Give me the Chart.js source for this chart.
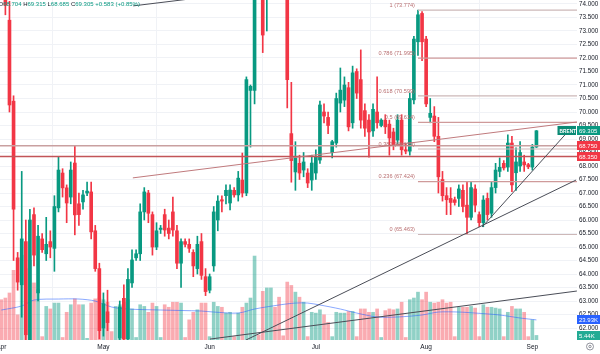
<!DOCTYPE html>
<html>
<head>
<meta charset="utf-8">
<script src="https://cdn.jsdelivr.net/npm/chart.js@4.4.1/dist/chart.umd.min.js"></script>
<style>
  body { margin: 0; background: #fff; }
  canvas { display: block; }
</style>
</head>
<body>
<canvas id="myChart" width="600" height="354"></canvas>
<script>
// daily bars, Sun-Fri (Good Friday missing)
const dates = ['Apr1','Apr2','Apr3','Apr4','Apr6','Apr7','Apr8','Apr9','Apr10','Apr11','Apr13','Apr14','Apr15','Apr16','Apr17','Apr20','Apr21','Apr22','Apr23','Apr24','Apr25','Apr27','Apr28','Apr29','Apr30',
  'May1','May2','May4','May5','May6','May7','May8','May9','May11','May12','May13','May14','May15','May16','May18','May19','May20','May21','May22','May23','May25','May26','May27','May28','May29','May30',
  'Jun1','Jun2','Jun3','Jun4','Jun5','Jun6','Jun8','Jun9','Jun10','Jun11','Jun12','Jun13','Jun15','Jun16','Jun17','Jun18','Jun19','Jun20','Jun22','Jun23','Jun24','Jun25','Jun26','Jun27','Jun29','Jun30',
  'Jul1','Jul2','Jul3','Jul4','Jul6','Jul7','Jul8','Jul9','Jul10','Jul11','Jul13','Jul14','Jul15','Jul16','Jul17','Jul18','Jul20','Jul21','Jul22','Jul23','Jul24','Jul25','Jul27','Jul28','Jul29','Jul30','Jul31',
  'Aug1','Aug3','Aug4','Aug5','Aug6','Aug7','Aug8','Aug10','Aug11','Aug12','Aug13','Aug14','Aug15','Aug17','Aug18','Aug19','Aug20','Aug21','Aug22','Aug24','Aug25','Aug26','Aug27','Aug28','Aug29','Aug31',
  'Sep1','Sep2'];

const open = [74.8,74.3,73.4,70.4,64.6,63.6,65.2,61.5,66.2,63.3,65.3,64.75,65.2,64.95,66.45,67.74,67.19,66.85,68.11,66.6,66.67,67.0,67.04,65.6,64.2,
  62.0,62.6,60.8,60.0,61.63,63.1,61.6,63.67,64.6,64.75,66.3,67.0,66.2,65.0,65.65,66.2,65.7,66.3,65.6,64.4,65.2,65.1,64.8,64.2,65.2,63.9,
  63.4,64.3,66.0,66.75,66.9,66.63,67.1,66.93,67.48,67.0,70.8,70.8,76.0,74.5,74.3,76.5,77.3,76.8,76.0,76.0,69.2,67.78,68.1,67.85,67.74,67.48,
  67.74,68.22,70.0,69.8,68.5,68.85,70.33,70.44,70.9,69.6,71.5,71.2,70.05,69.7,69.3,70.0,69.5,69.7,69.55,69.26,68.96,69.7,68.6,68.55,70.45,72.6,73.65,
  72.7,69.8,69.85,69.1,67.5,66.9,66.8,66.75,66.8,67.1,66.55,66.1,67.15,66.2,65.9,66.8,66.25,67.2,67.8,68.1,67.96,68.85,67.75,68.0,68.15,68.05,
  67.96,68.704];
const high = [75.2,74.6,74.1,70.6,64.8,67.8,66.0,66.4,66.45,65.8,65.5,66.1,65.6,66.9,68.33,67.9,67.3,68.15,68.74,67.0,67.1,67.4,67.4,65.8,64.4,
  63.3,63.4,61.0,60.9,63.0,63.6,64.2,64.9,64.9,66.6,67.2,67.1,66.3,65.9,65.8,66.4,66.0,66.85,65.8,65.3,65.3,65.3,64.9,65.4,65.5,64.2,
  64.0,66.5,66.9,66.9,67.3,67.3,67.2,67.8,68.48,71.3,71.0,77.5,76.5,75.5,77.0,77.0,79.0,78.0,77.5,81.0,71.1,68.9,68.4,68.5,67.9,68.4,
  68.6,70.4,70.3,70.0,68.95,70.7,71.63,71.3,71.1,71.7,71.6,72.3,70.3,69.9,70.3,71.3,69.75,69.9,69.7,69.4,69.9,69.9,68.8,70.7,72.8,73.774,73.72,
  72.8,70.5,70.2,69.8,67.8,67.2,67.2,66.85,67.3,67.3,67.4,67.4,67.3,66.3,66.9,67.0,67.4,68.1,68.3,68.2,69.15,69.1,68.67,68.9,68.4,68.1,
  68.8,69.315];
const low = [74.2,73.6,70.0,64.5,63.4,62.4,61.4,59.5,64.3,63.0,64.8,64.5,64.6,64.1,66.3,66.85,65.9,66.6,65.45,65.8,66.4,66.9,65.3,64.1,61.6,
  61.7,61.9,59.8,59.2,61.2,61.3,61.4,63.5,64.5,64.5,66.0,65.9,64.7,64.9,65.5,65.4,65.3,65.4,64.2,63.5,65.0,64.8,63.9,64.0,63.8,63.2,
  63.3,64.1,65.6,66.3,66.6,66.37,66.85,66.7,66.85,66.9,68.7,70.3,75.0,72.2,73.0,75.5,76.3,75.5,75.5,70.15,67.4,67.1,67.5,67.6,67.2,67.1,
  67.5,68.1,69.6,69.2,68.3,68.7,70.0,70.2,69.3,69.4,70.5,69.4,69.1,68.33,69.1,69.4,69.45,69.2,68.4,68.6,68.8,68.4,68.45,68.4,70.3,72.1,71.9,
  70.2,69.6,68.9,67.0,66.7,66.2,66.2,66.55,66.5,66.3,65.463,66.0,66.3,65.75,65.75,66.0,66.1,67.0,67.6,67.85,67.8,67.05,67.1,67.8,67.8,67.9,
  67.85,68.685];
const close = [74.4,73.95,70.26,66.4,63.7,65.3,61.75,66.0,64.7,65.4,64.9,65.1,65.0,66.5,67.85,67.19,66.63,67.85,66.19,66.2,66.93,67.07,65.56,64.2,61.9,
  62.9,62.2,60.2,60.7,62.78,61.6,63.8,64.52,64.75,66.3,67.04,66.25,65.0,65.6,65.7,65.63,65.5,65.63,64.4,65.2,65.1,64.95,64.3,65.1,63.95,63.35,
  63.9,66.3,66.7,66.7,67.1,67.11,66.93,67.55,67.0,71.2,70.95,75.0,75.5,72.85,76.5,76.8,76.8,76.0,75.8,71.2,68.2,68.3,67.74,68.15,67.37,68.11,
  68.33,70.26,69.85,69.5,68.9,70.5,70.81,71.0,69.45,71.45,70.7,69.7,69.4,69.26,70.1,69.6,69.7,69.45,69.04,68.78,69.7,68.6,68.55,70.5,72.7,73.6,72.6,
  70.3,69.95,69.1,67.6,66.9,66.75,66.65,66.65,67.15,66.5,66.1,67.2,66.55,65.9,66.74,66.2,67.2,67.85,67.95,67.93,68.85,67.3,68.15,68.5,68.04,67.97,
  68.7,69.305];
// volume in thousands
const volume = [48,50,56,83,30,101,85,95,68,60,4,40,37,44,44,3,33,42,49,42,42,2,44,49,50,
  48,45,10,40,42,45,48,37,3,42,40,33,44,40,3,42,39,45,45,44,3,24,33,36,44,44,
  4,45,40,39,32,33,4,32,39,44,50,100,6,58,62,62,39,51,5,69,65,57,51,45,4,33,
  32,36,30,21,4,33,32,32,34,34,4,37,37,33,33,37,3,35,37,36,37,45,3,48,50,57,48,
  57,45,44,45,48,44,45,4,39,39,39,40,38,4,42,39,39,38,37,4,33,40,37,37,33,4,
  24,5.44];
// volume moving average, read at a few bars
const maIdx = [0,5,8,14,19,23,27,31,39,49,52,58,62,68,72,75,78,83,87,92,97,103,107,112,116,122,127,131];
const maVol = [35.7,40.5,47.6,48.8,48.8,46.4,39.3,36.9,35.7,34.5,33.3,32.1,36.9,41.7,44,44,41.7,36.9,32.1,27.4,27.4,29.8,33.3,33.3,32.1,29.8,26.2,23.93];

const monthIdx = [0,25,51,77,104,130];
const monthLabels = ['Apr','May','Jun','Jul','Aug','Sep'];
const priceTicks = [62,62.5,63,63.5,64,64.5,65,65.5,66,66.5,67,67.5,68,68.5,69,69.5,70,70.5,71,71.5,72,72.5,73,73.5,74];

const fibRatios = ['1','0.786','0.618','0.5','0.382','0.236','0'];
const fibPrices = [73.774,71.995,70.599,69.614,68.629,67.424,65.463];
const fibStart = 102;
const hLines = [68.75, 68.35];
// drawn trend lines: [x1, price1, x2, price2]
const trendLines = [
  [32.3, 73.93, 61, 74.46],
  [59.9, 61.556, 140.7, 67.48],
  [51.1, 61.59, 140.9, 63.37],
  [117.7, 65.74, 138.2, 69.19]
];
const redLine = [32.2, 67.56, 140.9, 69.63];

const X_MIN = -0.318, X_MAX = 140.93;
const UP = '#089981', DOWN = '#f23645';

const isUp = close.map((c, i) => c >= open[i]);
const bodies = dates.map((d, i) => ({ x: i, y: [open[i], close[i]] }));
const wicks = dates.map((d, i) => ({ x: i, y: [low[i], high[i]] }));
const vols = dates.map((d, i) => ({ x: i, y: volume[i] }));
const ma = maIdx.map((v, k) => ({ x: v, y: maVol[k] }));

const lineSet = (pts, color, width, order) => ({
  type: 'line', data: pts, borderColor: color, borderWidth: width,
  pointRadius: 0, fill: false, tension: 0, yAxisID: 'y', order: order
});

const datasets = [];
trendLines.forEach(t => datasets.push(lineSet([{ x: t[0], y: t[1] }, { x: t[2], y: t[3] }], '#4a4d57', 1, 0)));
datasets.push(lineSet([{ x: redLine[0], y: redLine[1] }, { x: redLine[2], y: redLine[3] }], '#c07a7d', 1, 0));
datasets.push(lineSet([{ x: X_MIN, y: hLines[0] }, { x: X_MAX, y: hLines[0] }], '#c9a0a0', 1.6, 1));
datasets.push(lineSet([{ x: X_MIN, y: hLines[1] }, { x: X_MAX, y: hLines[1] }], '#c25458', 1.4, 1));
fibPrices.forEach((p, k) => datasets.push(lineSet([{ x: fibStart, y: p }, { x: X_MAX, y: p }], k % 2 ? '#cf9a9a' : '#cdb8b8', 1.2, 1)));

datasets.push({
  type: 'bar', data: bodies, yAxisID: 'y', order: 2, grouped: false,
  barThickness: 3, minBarLength: 1,
  backgroundColor: isUp.map(u => u ? UP : DOWN)
});
datasets.push({
  type: 'bar', data: wicks, yAxisID: 'y', order: 3, grouped: false,
  barThickness: 1,
  backgroundColor: isUp.map(u => u ? UP : DOWN)
});
datasets.push({
  type: 'line', data: ma, yAxisID: 'yVol', order: 4,
  borderColor: 'rgba(41,98,255,0.55)', borderWidth: 1, pointRadius: 0, tension: 0.3, fill: false
});
datasets.push({
  type: 'bar', data: vols, yAxisID: 'yVol', order: 5, grouped: false,
  barThickness: 3,
  backgroundColor: isUp.map(u => u ? 'rgba(8,153,129,0.45)' : 'rgba(242,54,69,0.42)')
});

const FONT = '"Liberation Sans", Arial, sans-serif';

function badge(ctx, text, x0, w, cy, bg) {
  ctx.fillStyle = bg;
  ctx.fillRect(x0, Math.round(cy - 4.5), w, 9);
  ctx.fillStyle = '#fff';
  ctx.textAlign = 'left';
  ctx.textBaseline = 'middle';
  ctx.fillText(text, x0 + 2, cy + 0.5);
}

const overlay = {
  id: 'overlay',
  afterDraw(chart) {
    const ctx = chart.ctx;
    const sx = chart.scales.x, sy = chart.scales.y, sv = chart.scales.yVol;
    const right = chart.chartArea.right;
    ctx.save();

    // fib labels
    ctx.font = '5.6px ' + FONT;
    ctx.fillStyle = '#b86e70';
    ctx.textAlign = 'right';
    ctx.textBaseline = 'bottom';
    fibPrices.forEach((p, k) => {
      ctx.fillText(fibRatios[k] + ' (' + p.toFixed(3) + ')', sx.getPixelForValue(fibStart) - 3, sy.getPixelForValue(p) - 2);
    });

    // price scale badges
    ctx.font = '6px ' + FONT;
    badge(ctx, hLines[0].toFixed(3), right, 600 - right, sy.getPixelForValue(hLines[0]), DOWN);
    badge(ctx, hLines[1].toFixed(3), right, 600 - right, sy.getPixelForValue(hLines[1]), DOWN);
    const last = close[close.length - 1];
    badge(ctx, last.toFixed(3), right, 600 - right, sy.getPixelForValue(last), UP);
    ctx.font = 'bold 4.8px ' + FONT;
    badge(ctx, 'BRENT', right - 19.5, 18.5, sy.getPixelForValue(last), '#0a8a75');
    ctx.font = '6px ' + FONT;
    badge(ctx, maVol[maVol.length - 1].toFixed(2) + 'K', right, 600 - right, sv.getPixelForValue(maVol[maVol.length - 1]), '#2962ff');
    badge(ctx, volume[volume.length - 1].toFixed(2) + 'K', right, 600 - right, sv.getPixelForValue(volume[volume.length - 1]), '#22ab94');

    // OHLC legend
    const n = close.length - 1;
    const chg = 0.583, pct = 0.85;
    const parts = [
      ['O', '#131722'], [open[n].toFixed(3) + ' ', UP],
      ['H', '#131722'], [high[n].toFixed(3) + ' ', UP],
      ['L', '#131722'], [low[n].toFixed(3) + ' ', UP],
      ['C', '#131722'], [close[n].toFixed(3) + ' ', UP],
      ['+' + chg.toFixed(3) + ' (+' + pct.toFixed(2) + '%)', UP]
    ];
    ctx.font = '6px ' + FONT;
    ctx.textAlign = 'left';
    ctx.textBaseline = 'middle';
    let px = -1.5;
    parts.forEach(p => {
      ctx.fillStyle = p[1];
      ctx.fillText(p[0], px, 4.5);
      px += ctx.measureText(p[0]).width;
    });

    // settings icon
    ctx.strokeStyle = '#787b86';
    ctx.lineWidth = 0.8;
    ctx.beginPath();
    ctx.arc(590, 346.5, 3.5, 0, Math.PI * 2);
    ctx.stroke();
    ctx.beginPath();
    ctx.arc(590, 346.5, 1.2, 0, Math.PI * 2);
    ctx.stroke();
    ctx.restore();
  }
};

const ctx = document.getElementById('myChart').getContext('2d');
const myChart = new Chart(ctx, {
  type: 'bar',
  data: { datasets: datasets },
  plugins: [overlay],
  options: {
    responsive: false,
    animation: false,
    devicePixelRatio: 1,
    layout: { padding: 0 },
    plugins: { legend: { display: false }, tooltip: { enabled: false } },
    scales: {
      x: {
        type: 'linear', min: X_MIN, max: X_MAX, offset: false,
        grid: { color: '#f0f2f6', drawTicks: false },
        border: { display: false },
        afterBuildTicks: s => { s.ticks = monthIdx.map(v => ({ value: v })); },
        afterFit: s => { s.height = 14; s.paddingLeft = 0; s.paddingRight = 0; },
        ticks: {
          autoSkip: false, maxRotation: 0, padding: 3,
          color: '#131722', font: { size: 6.5, family: FONT },
          callback: (v, i) => monthLabels[i]
        }
      },
      y: {
        type: 'linear', position: 'right', min: 61.556, max: 74.148,
        grid: { color: '#f0f2f6', drawTicks: false },
        border: { display: false },
        afterBuildTicks: s => { s.ticks = priceTicks.map(v => ({ value: v })); },
        afterFit: s => { s.width = 23; s.paddingTop = 0; s.paddingBottom = 0; },
        ticks: {
          autoSkip: false, padding: 2,
          color: '#131722', font: { size: 6.3, family: FONT },
          callback: v => v.toFixed(3)
        }
      },
      yVol: {
        type: 'linear', display: false, min: 0, max: 405
      }
    }
  }
});
</script>
</body>
</html>
